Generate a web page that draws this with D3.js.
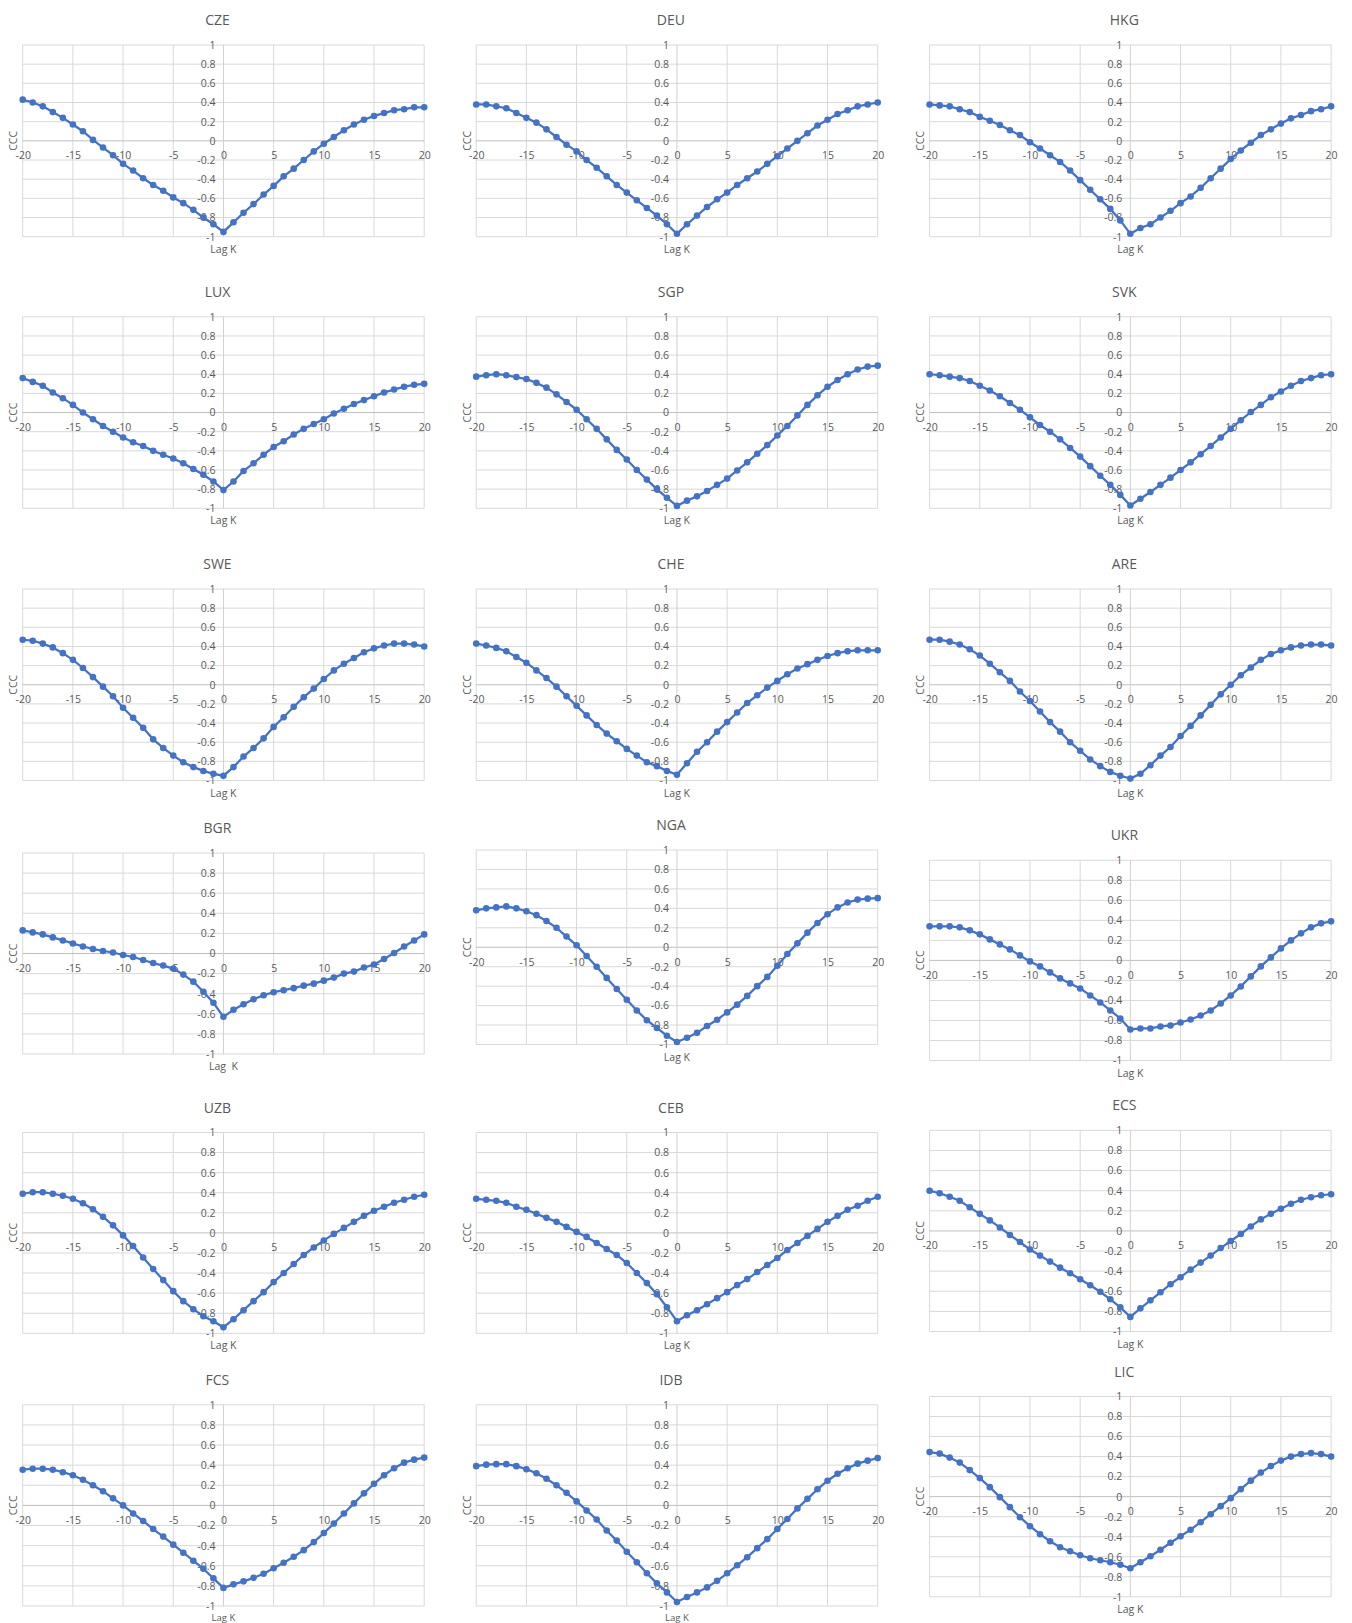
<!DOCTYPE html>
<html>
<head>
<meta charset="utf-8">
<script src="https://cdn.jsdelivr.net/npm/d3@7"></script>
<style>
  body { margin: 0; background: #fff; }
  text { font-family: "Open Sans", sans-serif; }
</style>
</head>
<body>
<svg id="chart" width="1352" height="1623"></svg>
<script>
// Lags and tick values
const lags = d3.range(-20, 21);
const xTicks = [-20, -15, -10, -5, 0, 5, 10, 15, 20];
const yTicks = [1, 0.8, 0.6, 0.4, 0.2, 0, -0.2, -0.4, -0.6, -0.8, -1];

const countries = ["CZE", "DEU", "HKG", "LUX", "SGP", "SVK", "SWE", "CHE", "ARE",
                   "BGR", "NGA", "UKR", "UZB", "CEB", "ECS", "FCS", "IDB", "LIC"];
const xTitles = countries.map(c => c === "BGR" ? "Lag  K" : "Lag K");

// CCC values for lag -20 .. 20
const CZE = [0.43,0.40,0.36,0.30,0.24,0.17,0.10,0.01,-0.07,-0.15,-0.24,-0.31,-0.39,-0.46,-0.52,-0.59,-0.65,-0.72,-0.80,-0.87,
             -0.95,
             -0.85,-0.75,-0.66,-0.56,-0.47,-0.37,-0.29,-0.20,-0.11,-0.03,0.04,0.11,0.17,0.22,0.26,0.29,0.32,0.33,0.35,0.35];
const DEU = [0.38,0.38,0.36,0.34,0.29,0.24,0.19,0.12,0.04,-0.04,-0.11,-0.20,-0.28,-0.37,-0.46,-0.54,-0.62,-0.70,-0.78,-0.87,
             -0.97,
             -0.87,-0.78,-0.69,-0.61,-0.54,-0.46,-0.39,-0.32,-0.24,-0.16,-0.08,0.00,0.08,0.16,0.22,0.28,0.32,0.36,0.38,0.40];
const HKG = [0.38,0.37,0.36,0.33,0.30,0.25,0.21,0.165,0.11,0.06,-0.015,-0.08,-0.15,-0.22,-0.31,-0.41,-0.51,-0.61,-0.71,-0.83,
             -0.97,
             -0.91,-0.87,-0.80,-0.73,-0.65,-0.58,-0.49,-0.39,-0.29,-0.19,-0.10,-0.02,0.06,0.12,0.18,0.235,0.27,0.31,0.33,0.36];
const LUX = [0.36,0.32,0.28,0.21,0.15,0.08,0.00,-0.07,-0.14,-0.20,-0.26,-0.31,-0.35,-0.40,-0.44,-0.48,-0.53,-0.59,-0.65,-0.72,
             -0.81,
             -0.72,-0.61,-0.53,-0.44,-0.36,-0.30,-0.23,-0.17,-0.12,-0.07,-0.01,0.04,0.09,0.13,0.17,0.21,0.24,0.27,0.29,0.30];
const SGP = [0.375,0.39,0.40,0.39,0.37,0.35,0.31,0.26,0.19,0.11,0.03,-0.07,-0.17,-0.28,-0.39,-0.49,-0.60,-0.70,-0.80,-0.89,
             -0.975,
             -0.92,-0.875,-0.82,-0.755,-0.69,-0.605,-0.52,-0.43,-0.34,-0.24,-0.14,-0.03,0.08,0.18,0.27,0.34,0.40,0.45,0.48,0.49];
const SVK = [0.40,0.39,0.375,0.36,0.33,0.28,0.23,0.17,0.10,0.03,-0.05,-0.13,-0.20,-0.28,-0.37,-0.46,-0.56,-0.66,-0.755,-0.86,
             -0.97,
             -0.90,-0.83,-0.755,-0.68,-0.60,-0.52,-0.435,-0.35,-0.26,-0.17,-0.08,0.005,0.08,0.16,0.22,0.28,0.33,0.36,0.39,0.40];
const SWE = [0.47,0.46,0.43,0.39,0.33,0.26,0.175,0.08,-0.02,-0.12,-0.24,-0.345,-0.45,-0.57,-0.66,-0.74,-0.81,-0.86,-0.90,-0.93,
             -0.95,
             -0.86,-0.75,-0.66,-0.56,-0.44,-0.34,-0.23,-0.13,-0.04,0.06,0.15,0.22,0.28,0.34,0.38,0.41,0.43,0.43,0.42,0.40];
const CHE = [0.43,0.41,0.385,0.35,0.29,0.23,0.15,0.07,-0.02,-0.12,-0.22,-0.32,-0.42,-0.51,-0.59,-0.67,-0.74,-0.81,-0.85,-0.90,
             -0.94,
             -0.82,-0.70,-0.60,-0.49,-0.39,-0.29,-0.19,-0.11,-0.03,0.04,0.11,0.17,0.215,0.26,0.30,0.33,0.35,0.36,0.36,0.36];
const ARE = [0.47,0.47,0.45,0.42,0.37,0.305,0.22,0.13,0.04,-0.07,-0.17,-0.28,-0.39,-0.49,-0.60,-0.69,-0.78,-0.85,-0.91,-0.95,
             -0.98,
             -0.93,-0.84,-0.74,-0.65,-0.535,-0.43,-0.32,-0.21,-0.10,0.00,0.10,0.18,0.26,0.32,0.36,0.39,0.41,0.42,0.42,0.41];
const BGR = [0.23,0.21,0.19,0.16,0.13,0.10,0.07,0.045,0.025,0.01,-0.015,-0.035,-0.065,-0.095,-0.12,-0.15,-0.21,-0.28,-0.38,-0.49,
             -0.63,
             -0.56,-0.505,-0.455,-0.415,-0.385,-0.365,-0.345,-0.32,-0.30,-0.27,-0.24,-0.20,-0.18,-0.14,-0.11,-0.055,0.005,0.07,0.13,0.19];
const NGA = [0.38,0.40,0.41,0.42,0.40,0.37,0.33,0.27,0.20,0.11,0.02,-0.09,-0.20,-0.315,-0.43,-0.54,-0.65,-0.75,-0.83,-0.91,
             -0.975,
             -0.93,-0.88,-0.81,-0.745,-0.67,-0.59,-0.50,-0.40,-0.305,-0.19,-0.07,0.04,0.15,0.25,0.34,0.41,0.46,0.49,0.50,0.505];
const UKR = [0.34,0.34,0.34,0.33,0.30,0.26,0.21,0.16,0.11,0.05,-0.01,-0.06,-0.12,-0.18,-0.23,-0.28,-0.35,-0.42,-0.50,-0.58,
             -0.69,
             -0.68,-0.68,-0.66,-0.65,-0.62,-0.59,-0.55,-0.50,-0.43,-0.35,-0.26,-0.16,-0.06,0.03,0.12,0.20,0.27,0.33,0.37,0.39];
const UZB = [0.39,0.405,0.405,0.39,0.37,0.34,0.295,0.235,0.16,0.075,-0.025,-0.13,-0.245,-0.36,-0.47,-0.58,-0.68,-0.76,-0.83,-0.88,
             -0.94,
             -0.86,-0.77,-0.68,-0.59,-0.49,-0.40,-0.31,-0.22,-0.145,-0.075,-0.01,0.05,0.11,0.17,0.22,0.26,0.30,0.33,0.36,0.38];
const CEB = [0.34,0.33,0.32,0.30,0.26,0.23,0.19,0.15,0.11,0.06,0.01,-0.04,-0.10,-0.16,-0.22,-0.30,-0.40,-0.50,-0.61,-0.74,
             -0.88,
             -0.82,-0.77,-0.71,-0.65,-0.59,-0.52,-0.46,-0.39,-0.32,-0.25,-0.17,-0.10,-0.03,0.04,0.11,0.17,0.23,0.27,0.32,0.36];
const ECS = [0.40,0.375,0.34,0.30,0.235,0.17,0.105,0.035,-0.04,-0.11,-0.185,-0.245,-0.305,-0.365,-0.42,-0.48,-0.54,-0.605,-0.68,-0.76,
             -0.855,
             -0.77,-0.69,-0.61,-0.53,-0.46,-0.385,-0.315,-0.245,-0.17,-0.10,-0.03,0.045,0.115,0.17,0.22,0.27,0.31,0.335,0.355,0.365];
const FCS = [0.355,0.365,0.365,0.355,0.33,0.30,0.255,0.20,0.14,0.07,0.00,-0.08,-0.155,-0.235,-0.31,-0.39,-0.47,-0.55,-0.63,-0.725,
             -0.82,
             -0.785,-0.755,-0.72,-0.68,-0.625,-0.57,-0.51,-0.445,-0.365,-0.275,-0.18,-0.08,0.02,0.12,0.215,0.30,0.37,0.425,0.455,0.475];
const IDB = [0.39,0.405,0.41,0.41,0.39,0.36,0.32,0.265,0.20,0.125,0.04,-0.05,-0.14,-0.25,-0.35,-0.46,-0.565,-0.675,-0.775,-0.865,
             -0.96,
             -0.91,-0.865,-0.815,-0.75,-0.675,-0.595,-0.515,-0.425,-0.335,-0.235,-0.135,-0.03,0.065,0.16,0.245,0.315,0.37,0.415,0.445,0.47];
const LIC = [0.445,0.43,0.39,0.34,0.265,0.185,0.095,-0.005,-0.105,-0.205,-0.295,-0.375,-0.445,-0.505,-0.545,-0.585,-0.615,-0.635,-0.655,-0.68,
             -0.715,
             -0.655,-0.595,-0.53,-0.46,-0.395,-0.33,-0.255,-0.175,-0.095,-0.015,0.075,0.16,0.24,0.305,0.36,0.40,0.425,0.435,0.425,0.40];

const series = [CZE, DEU, HKG, LUX, SGP, SVK, SWE, CHE, ARE, BGR, NGA, UKR, UZB, CEB, ECS, FCS, IDB, LIC];

// Panel layout (plot area of each small chart)
const colLeft = [22.7, 476.2, 929.6];
const plotW = 401.5;
const plotTop    = [45, 45, 45, 316.8, 316.8, 316.8, 589, 589, 589,
                    853, 850, 860.3, 1132.5, 1132.5, 1130.4, 1404.8, 1404.8, 1396.5];
const plotBottom = [236.7, 236.7, 236.7, 508.3, 508.3, 508.3, 780.5, 780.5, 780.5,
                    1054, 1044.5, 1060.5, 1333.3, 1333.3, 1331.5, 1606, 1606, 1596.8];

const blue = "#4472C4";
const textColor = "#595959";
const labelSize = 10.5;
const pageH = 1623;

const svg = d3.select("#chart");

countries.forEach((name, i) => {
  const left = colLeft[i % 3], right = left + plotW;
  const top = plotTop[i], bottom = plotBottom[i];

  const x = d3.scaleLinear().domain([-20, 20]).range([left, right]);
  const y = d3.scaleLinear().domain([-1, 1]).range([bottom, top]);

  const g = svg.append("g").attr("class", "panel");

  // horizontal gridlines
  g.selectAll(".hgrid")
    .data(yTicks.filter(d => d !== 0))
    .join("line")
      .attr("class", "hgrid")
      .attr("x1", left).attr("x2", right)
      .attr("y1", d => y(d)).attr("y2", d => y(d))
      .attr("stroke", "#d9d9d9")
      .attr("stroke-width", 1);

  // vertical gridlines
  g.selectAll(".vgrid")
    .data(xTicks.filter(d => d !== 0))
    .join("line")
      .attr("class", "vgrid")
      .attr("x1", d => x(d)).attr("x2", d => x(d))
      .attr("y1", top).attr("y2", bottom)
      .attr("stroke", "#d9d9d9")
      .attr("stroke-width", 1);

  // axis lines through zero
  g.append("line")
    .attr("x1", left).attr("x2", right)
    .attr("y1", y(0)).attr("y2", y(0))
    .attr("stroke", "#bfbfbf");
  g.append("line")
    .attr("x1", x(0)).attr("x2", x(0))
    .attr("y1", top).attr("y2", bottom)
    .attr("stroke", "#d0d0d0");

  // y tick labels next to the vertical axis
  g.append("g")
    .attr("transform", `translate(${x(0)},0)`)
    .call(d3.axisLeft(y).tickValues(yTicks).tickFormat(d => String(d)).tickSize(0).tickPadding(8))
    .call(a => a.select(".domain").remove())
    .attr("font-family", null).attr("font-size", labelSize)
    .attr("color", textColor);

  // x tick labels under the zero line
  g.append("g")
    .attr("transform", `translate(0,${y(0)})`)
    .call(d3.axisBottom(x).tickValues(xTicks).tickFormat(d => String(d)).tickSize(0).tickPadding(11))
    .call(a => a.select(".domain").remove())
    .attr("font-family", null).attr("font-size", labelSize)
    .attr("color", textColor);

  // chart title
  g.append("text")
    .attr("x", x(0) - 6).attr("y", top - 20)
    .attr("text-anchor", "middle")
    .attr("font-size", 14)
    .attr("fill", textColor)
    .text(name);

  // axis titles
  g.append("text")
    .attr("transform", `translate(${left - 9},${y(0)}) rotate(-90)`)
    .attr("text-anchor", "middle")
    .attr("dy", "0.35em")
    .attr("font-size", labelSize)
    .attr("fill", textColor)
    .text("CCC");

  // bottom row: x title squeezed a little so it stays inside the page
  const nearEdge = bottom + 16 > pageH - 3;
  g.append("text")
    .attr("x", x(0)).attr("y", nearEdge ? pageH - 2.5 : bottom + 16)
    .attr("text-anchor", "middle")
    .attr("font-size", nearEdge ? 9.5 : labelSize)
    .attr("fill", textColor)
    .style("white-space", "pre")
    .text(xTitles[i]);

  // series line and markers
  const line = d3.line()
    .x((d, j) => x(lags[j]))
    .y(d => y(d));

  g.append("path")
    .datum(series[i])
    .attr("d", line)
    .attr("fill", "none")
    .attr("stroke", blue)
    .attr("stroke-width", 2.25);

  g.selectAll(".pt")
    .data(series[i])
    .join("circle")
      .attr("class", "pt")
      .attr("cx", (d, j) => x(lags[j]))
      .attr("cy", d => y(d))
      .attr("r", 3.3)
      .attr("fill", blue);
});
</script>
</body>
</html>
